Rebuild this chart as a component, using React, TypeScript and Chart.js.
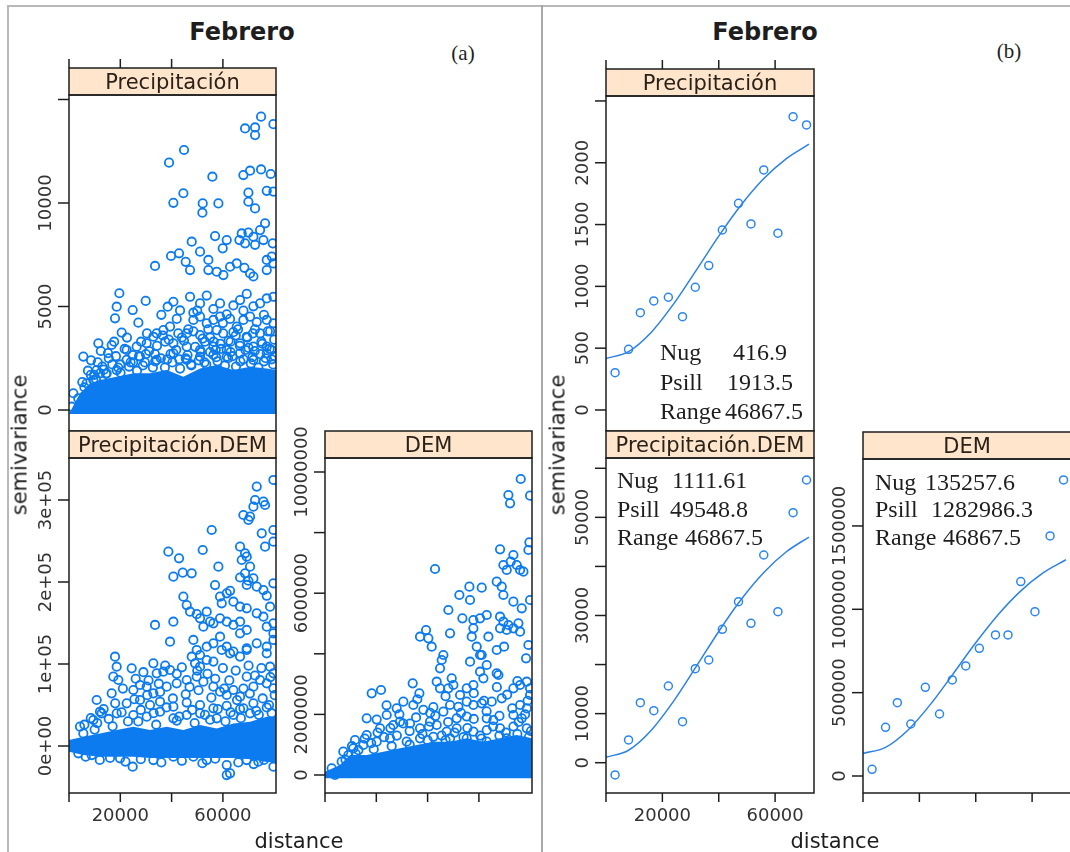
import React, { useEffect, useRef } from "react";
import { Chart, registerables } from "chart.js";

Chart.register(...registerables);

// ---------------- data ----------------
const xTicks = [0, 20000, 40000, 60000];
const xLabelsBottom = ["", "20000", "", "60000"];
const xLabelsNone = ["", "", "", ""];

// (a) variogram cloud: Precipitación  [distance, semivariance]
const precipCloudHigh: [number, number][] = [
  [74880, 14170], [68640, 13600], [72540, 13650], [72540, 13280], [79690, 13810],
  [44850, 12560], [39000, 11950],
  [55900, 11270], [67990, 11350], [70590, 11560], [74880, 11620], [78650, 11400],
  [44590, 10470], [40690, 10010], [52130, 9980], [52000, 9530], [58240, 9980], [69940, 10500],
  [69940, 10060], [72540, 9740], [77090, 10590], [79690, 10550],
  [76440, 9020], [67340, 8530], [69940, 8570], [71890, 8370], [66430, 8210], [68640, 8050],
  [72540, 7980], [75790, 8210], [74490, 8690], [79430, 8050], [56940, 8400], [61490, 8210],
  [59930, 7810], [47840, 8130], [51090, 7650], [79040, 7410], [77090, 7250],
  [39780, 7440], [42900, 7570], [45500, 7160], [47190, 6760], [33540, 6960], [54340, 7250],
  [54340, 6760], [57590, 6680], [60190, 6520], [62790, 6920], [65390, 7080], [68380, 6870],
  [70590, 6600], [71890, 6450], [77090, 6760], [79690, 7080],
];
const precipCloudMid: [number, number][] = [
  [19630, 5640], [18590, 4990], [17940, 4430], [24830, 4830], [27040, 4220], [29900, 5270],
  [20540, 3740], [11440, 3220], [16640, 3140], [5590, 2580],
  [38480, 4990], [40690, 5230], [43290, 4810], [47190, 5470], [48490, 4700], [51090, 5150],
  [53690, 5530], [56290, 4880], [58890, 5150], [61490, 4620], [64090, 5050], [66690, 5310],
  [69290, 5610], [71890, 5010], [74490, 5150], [77090, 5390], [79690, 5470],
  [48490, 4350], [51090, 4510], [53690, 4190], [56290, 4350], [58890, 4510], [62790, 4400],
  [65390, 4030], [67990, 4350], [70590, 4510], [73190, 4250], [77090, 4350], [79690, 4190],
  [34190, 3700], [36790, 3860], [39390, 4030], [45890, 3700], [51090, 3620], [57590, 3860],
  [64090, 3760], [69290, 3540], [74490, 3700], [78390, 3800],
  [36000, 4600], [42000, 4400], [46500, 3900], [50000, 4800], [55000, 3500], [60000, 4200],
  [63000, 3300], [68000, 4800], [72500, 3900], [76000, 4600], [80000, 3400], [37500, 3300],
  [44000, 3500], [53000, 3300], [59000, 3200], [65000, 3600], [70000, 3000], [75000, 3300],
];
const precipCloudLow: [number, number][] = [
  [22490, 2900], [26390, 3060], [30290, 3220], [32890, 3540], [40690, 3220], [45890, 3060],
  [51090, 2900], [56290, 3060], [61490, 2900], [66690, 3220], [71890, 3060], [77090, 3060],
  [79000, 2900], [30000, 2700], [25000, 2300], [20000, 2200], [15500, 2500], [8500, 1700], [13000, 2100],
  [1690, 810], [6890, 1290], [10790, 1930], [14690, 1770], [18590, 1930], [22490, 2420],
  [27690, 2580], [34190, 2420], [40690, 2740], [45890, 2420], [51090, 2580], [56290, 2660],
  [61490, 2580], [66690, 2740], [71890, 2420], [77090, 2740],
  [1040, 160], [3640, 560], [9490, 1450], [12090, 1770],
];
const precipCloudFringe: [number, number][] = [
  [5200, 1350], [7400, 1900], [9800, 1700], [11200, 2300], [13600, 1950], [15200, 2750], [16900, 2200],
  [18300, 2600], [20100, 1800], [21700, 2950], [23400, 2100], [24800, 2650], [26500, 1900], [28100, 3300],
  [29600, 2300], [31200, 2850], [32700, 2050], [34300, 3100], [35800, 2500], [37400, 2050], [38900, 3400],
  [40300, 2300], [41800, 2900], [43300, 2000], [44800, 3350], [46200, 2650], [47700, 2150], [49200, 3050],
  [50600, 2400], [52100, 3450], [53500, 2200], [55000, 2800], [56400, 3300], [57900, 2350], [59300, 2950],
  [60800, 2150], [62200, 3350], [63700, 2600], [65100, 2100], [66600, 3100], [68000, 2450], [69500, 3500],
  [70900, 2250], [72400, 2850], [73800, 2050], [75300, 3200], [76700, 2500], [78200, 2950], [79600, 2200],
  [8600, 2400], [12400, 2850], [17600, 3300], [22600, 3500], [27300, 2600], [30400, 3700], [33500, 2700],
  [36600, 3600], [39600, 2700], [42600, 3700], [45500, 2500], [48500, 3800], [51400, 2800], [54300, 3900],
  [57200, 2900], [60100, 3700], [63000, 2800], [65900, 3900], [68800, 2900], [71700, 3700], [74600, 2700],
  [77500, 3800], [80200, 2600],
  [6000, 1100], [10500, 1500], [14400, 1750], [19200, 2050], [24000, 2300], [28800, 2150], [33600, 2350],
  [38300, 2450], [43000, 2450], [47600, 2200], [52800, 2300], [57400, 2550], [62000, 2500], [66800, 2350],
  [71500, 2550], [76000, 2350], [79000, 2450],
];
// dense part of the cloud (edge of the overlapping circles)
const precipBandDist = [0, 2500, 4290, 8190, 12090, 18590, 25090, 31590, 38090, 44590, 51090, 57590, 64090, 70590, 77090, 80700];
const precipBandTop = [-190, 400, 805, 1290, 1450, 1610, 1770, 1770, 1930, 1610, 2010, 2170, 1930, 2090, 2010, 1930];
const precipBandBottom = [-190, -190, -190, -190, -190, -190, -190, -190, -190, -190, -190, -190, -190, -190, -190, -190];

// (a) variogram cloud: Precipitación.DEM
const precipDemCloudHigh: [number, number][] = [
  [79690, 324400], [73190, 316300], [72540, 300000], [75790, 298000], [71890, 291900], [76440, 293900],
  [67990, 281700], [70590, 279700], [69940, 275600], [75140, 259300], [79690, 263400], [76440, 243100],
  [79690, 249200], [55640, 263400], [52130, 239000], [38740, 237000], [42900, 228900], [40690, 206500],
  [44330, 211400], [47840, 210600], [58240, 218700],
  [66690, 243100], [68640, 235000], [69290, 230900], [67340, 226800], [70590, 218700], [68640, 210600],
  [66690, 205500], [69940, 201500], [71890, 204400], [69290, 196400], [73190, 194300], [75790, 190200],
  [77090, 183200], [79690, 198400], [78390, 169900], [79690, 149600],
  [56940, 196300], [58890, 182100], [61490, 186200], [62790, 189200], [59540, 174000], [64090, 176000],
  [66690, 169900], [69290, 167900], [73190, 161800], [75790, 157700], [77090, 145500], [79690, 137400],
  [44590, 182100], [45890, 171900], [47190, 163800], [49790, 160800], [51090, 155700], [53690, 163800],
  [54990, 151700], [52390, 145500], [56290, 149600], [58890, 155700], [61490, 151600], [64090, 147600],
  [66690, 151600], [69290, 141500],
];
const precipDemCloudMid: [number, number][] = [
  [33540, 147600], [40690, 151600], [39390, 127200], [48490, 129300], [49790, 117100], [51090, 111000],
  [53690, 121100], [56290, 125200], [58890, 133300], [61490, 121100], [62790, 113000], [66690, 137400],
  [69290, 119100], [73190, 125200], [77090, 121100], [79690, 129300],
  [47840, 108900], [49140, 100800], [51090, 96700], [53690, 104900], [56290, 102900], [59540, 117100],
  [64090, 115100], [66690, 109000], [69290, 117100], [77090, 113000], [78390, 96700], [79690, 88600],
  [17940, 108900], [18590, 96700], [17290, 84600], [19240, 80500], [24440, 94700], [10790, 56100],
  [16640, 64200], [12740, 39800], [4290, 23600], [5590, 15400], [9490, 31700], [12090, 41800],
  [32890, 100800], [34190, 88600], [36790, 90600], [39390, 92700], [30290, 72400], [27690, 74400],
  [25090, 68300], [32890, 64200], [38090, 72400], [41990, 76400], [45890, 80500], [49790, 84600],
  [52390, 78500], [56290, 72400], [58890, 66200], [61490, 62200], [64090, 68300], [66690, 60200],
  [69290, 84600], [71890, 72400], [74490, 80500], [77090, 76400], [79690, 70400],
];
const precipDemCloudLow: [number, number][] = [
  [22490, 52000], [27690, 56100], [31590, 50000], [35490, 54000], [40690, 48000], [45890, 53000],
  [51090, 50000], [56290, 46000], [61490, 49000], [66690, 45000], [71890, 52000], [77090, 47000],
  [18590, 39800], [25090, 37800], [30290, 35800], [35490, 41800], [40690, 33800], [45890, 37800],
  [51090, 39800], [57590, 33800], [64090, 37800], [70590, 39800],
  [3640, -8900], [8840, -11000], [19890, -15000], [24830, -25200], [32890, -17100], [40690, -13000],
  [48490, -13000], [53690, -17100], [61490, -23200], [62790, -33300], [61490, -35400], [69290, -17100],
  [73840, -19100], [79690, -25200],
];
const precipDemCloudFringe: [number, number][] = [
  [6000, 26000], [8500, 34000], [11000, 28000], [13500, 45000], [15500, 33000], [18000, 52000], [20500, 41000],
  [23000, 30000], [25500, 57000], [28000, 44000], [30500, 62000], [33000, 40000], [35500, 66000], [38000, 47000],
  [40500, 58000], [43000, 36000], [45500, 63000], [48000, 44000], [50500, 68000], [53000, 38000], [55500, 59000],
  [58000, 45000], [60500, 70000], [63000, 41000], [65500, 56000], [68000, 46000], [70500, 64000], [73000, 43000],
  [75500, 58000], [78000, 50000], [80200, 62000],
  [21000, 70000], [26000, 82000], [29000, 90000], [31000, 80000], [35000, 76000], [37500, 98000], [42000, 88000],
  [44000, 96000], [47000, 72000], [50000, 92000], [54000, 88000], [57000, 82000], [60000, 95000], [62500, 80000],
  [65000, 92000], [68000, 70000], [70000, 98000], [72500, 86000], [75000, 95000], [78500, 84000],
  [6500, -13000], [12000, -17000], [16000, -14500], [22000, -19000], [28000, -16000], [36000, -20000],
  [44000, -18000], [52000, -21000], [57000, -15500], [66000, -20000], [72000, -22000], [76000, -17000],
  [10000, 20000], [17000, 24000], [27000, 30000], [34000, 26000], [42000, 31000], [49000, 28000],
  [55000, 32000], [61000, 30000], [67000, 34000], [74000, 38000], [79000, 40000],
];
const precipDemBandDist = [0, 5590, 12090, 18590, 25090, 31590, 38090, 44590, 51090, 57590, 64090, 70590, 77090, 80700];
const precipDemBandTop = [7300, 11400, 15400, 19500, 23600, 19500, 23600, 19500, 25600, 21500, 27600, 29700, 35800, 35800];
const precipDemBandBottom = [-6900, -11000, -13000, -13000, -13000, -14600, -14600, -14600, -14600, -14600, -14600, -16000, -19500, -19500];

// (a) variogram cloud: DEM
const demCloudHigh: [number, number][] = [
  [76310, 9769000], [71500, 9241000], [72150, 8966000], [79950, 9219000],
  [42900, 6799000], [68250, 7448000], [79690, 7679000], [79300, 7426000], [73450, 7261000],
  [69550, 6931000], [70850, 6766000], [76050, 6766000], [77350, 6711000], [74750, 6931000], [72410, 7041000],
  [52390, 5941000], [56290, 6216000], [61100, 6183000], [56550, 5776000], [66950, 6381000], [68900, 6216000],
  [69550, 5941000], [73450, 5721000], [76700, 5501000], [79950, 5776000],
  [48100, 5445000], [53560, 5170000], [57850, 5115000], [60450, 5170000], [63050, 5280000], [57850, 4840000],
  [57200, 4565000], [63700, 4565000], [68250, 5225000], [69550, 5060000], [71500, 4950000], [73450, 4840000],
  [75400, 5005000], [68250, 4840000], [70850, 4785000], [76050, 4730000],
];
const demCloudMid: [number, number][] = [
  [37050, 4565000], [39390, 4785000], [40300, 4510000], [41600, 4235000], [48750, 4675000], [46150, 3960000],
  [45500, 3795000], [44850, 3520000], [56550, 3740000], [60450, 3960000], [59150, 4235000], [61100, 3960000],
  [63050, 3630000], [66950, 4125000], [69810, 4235000], [79300, 4290000], [78390, 3850000],
  [49400, 3190000], [50050, 2970000], [48100, 2860000], [55250, 2860000], [60450, 3410000], [61750, 3190000],
  [57850, 2970000], [66950, 3355000], [67600, 3300000], [73450, 2860000], [76050, 2970000], [78650, 3080000],
  [79950, 2860000],
  [34190, 3025000], [36790, 2695000], [18200, 2695000], [21840, 2805000], [43550, 3080000], [44850, 2860000],
  [52650, 2640000], [55250, 2420000], [57850, 2310000], [61100, 2365000], [65000, 2420000], [68900, 2530000],
  [76050, 2310000], [78650, 2200000], [79950, 2640000],
];
const demCloudLow: [number, number][] = [
  [16250, 1870000], [20150, 1830000], [24050, 1980000], [27950, 2200000], [30550, 2420000], [34450, 2310000],
  [38350, 2150000], [42250, 2240000], [46150, 2090000], [48750, 2310000], [51350, 1870000], [55250, 1930000],
  [63050, 1870000], [65650, 1810000], [73450, 1980000], [76700, 1870000],
  [11700, 1155000], [16250, 1320000], [21450, 1540000], [26650, 1650000], [29250, 1760000], [33150, 1700000],
  [37050, 1540000], [40950, 1760000], [43550, 1650000], [47450, 1430000], [51350, 1540000], [57850, 1430000],
  [63050, 1480000], [68250, 1540000], [73450, 1600000], [78650, 1540000],
  [7150, 770000], [11050, 880000], [14950, 990000], [20150, 1100000], [25350, 1210000], [31850, 1100000],
  [37050, 1210000], [42250, 1260000], [48750, 1210000], [55250, 1210000], [63050, 1100000], [70850, 1210000],
  [2600, 220000], [3900, 0], [6500, 440000], [9100, 660000],
];
const demCloudFringe: [number, number][] = [
  [8000, 500000], [10500, 950000], [13000, 820000], [15500, 1200000], [18000, 1050000], [20500, 1400000],
  [23000, 1250000], [25500, 1550000], [28000, 1300000], [30500, 1700000], [33000, 1450000], [35500, 1900000],
  [38000, 1350000], [40500, 1600000], [43000, 1950000], [45500, 1300000], [48000, 1750000], [50500, 1400000],
  [53000, 2050000], [55500, 1550000], [58000, 1850000], [60500, 1300000], [63000, 2100000], [65500, 1600000],
  [68000, 1950000], [70500, 1400000], [73000, 2200000], [75500, 1750000], [78000, 2000000], [80300, 1450000],
  [24000, 2300000], [29000, 2000000], [36000, 2500000], [41000, 2050000], [47000, 2600000], [52000, 2250000],
  [58000, 2700000], [62000, 2450000], [67000, 2900000], [71000, 2650000], [75000, 3100000], [79000, 2450000],
  [12000, 700000], [19000, 850000], [26000, 950000], [33000, 1000000], [40000, 1150000], [47000, 1150000],
  [54000, 1250000], [61000, 1200000], [68000, 1300000], [75000, 1350000], [79500, 1250000],
];
const demBandDist = [0, 5850, 9750, 16250, 22750, 29250, 35750, 42250, 48750, 55250, 61750, 68250, 74750, 80700];
const demBandTop = [110000, 330000, 660000, 660000, 770000, 880000, 990000, 1100000, 1100000, 1210000, 1100000, 1210000, 1320000, 1210000];
const demBandBottom = [-110000, -110000, -110000, -110000, -110000, -110000, -110000, -110000, -110000, -110000, -110000, -110000, -110000, -110000];

// (b) sample variograms
const binDist = [3220, 8000, 12180, 16960, 22120, 27150, 31680, 36460, 41280, 47010, 51440, 55970, 61000, 66380, 71150];
const precipGamma = [302, 491, 787, 882, 912, 755, 993, 1168, 1456, 1672, 1505, 1942, 1430, 2373, 2306];
const precipDemGamma = [-2500, 4630, 12230, 10600, 15630, 8360, 19160, 20930, 27190, 32810, 28410, 42330, 30770, 50950, 57610];
const demGamma = [40200, 292100, 440000, 312000, 532000, 372000, 576000, 660000, 766000, 846000, 846000, 1166000, 986000, 1440000, 1776000];

// (b) fitted model curves
const modelDist = [0, 8000, 16000, 24000, 32000, 40000, 48000, 56000, 64000, 72000];
const precipModel = [417, 472, 627, 858, 1130, 1407, 1660, 1872, 2034, 2150];
const precipDemModel = [1112, 2534, 6562, 12538, 19574, 26744, 33304, 38779, 42985, 45984];
const demModel = [135258, 172080, 276386, 431115, 613299, 798947, 968814, 1110574, 1219510, 1297130];

// y tick values / labels
const aPrecipYTicks = [0, 5000, 10000, 15000];
const aPrecipYLabels = ["0", "5000", "10000", ""];
const aPrecipDemYTicks = [0, 100000, 200000, 300000];
const aPrecipDemYLabels = ["0e+00", "1e+05", "2e+05", "3e+05"];
const aDemYTicks = [0, 2000000, 4000000, 6000000, 8000000, 10000000];
const aDemYLabels = ["0", "2000000", "", "6000000", "", "10000000"];
const bPrecipYTicks = [0, 500, 1000, 1500, 2000, 2500];
const bPrecipYLabels = ["0", "500", "1000", "1500", "2000", ""];
const bPrecipDemYTicks = [0, 10000, 20000, 30000, 40000, 50000, 60000];
const bPrecipDemYLabels = ["0", "10000", "", "30000", "", "50000", ""];
const bDemYTicks = [0, 500000, 1000000, 1500000];
const bDemYLabels = ["0", "500000", "1000000", "1500000"];

// ---------------- styling ----------------
const CLOUD_BLUE = "#0b7bef";
const BAND_BLUE = "#0b7bef";
const SAMPLE_BLUE = "#2a86ee";
const LINE_BLUE = "#2b82e6";
const STRIP_BG = "#ffe5cc";
const INK = "#1e1e1e";
const TICK_INK = "#333333";
const SANS = '"DejaVu Sans", sans-serif';
const SERIF = '"Liberation Serif", "Times New Roman", serif';
const PAD = { left: 64, right: 6, top: 46, bottom: 46 };
const STRIP_H = 27;

const pts = (xs: number[], ys: number[]) => xs.map((x, i) => ({ x, y: ys[i] }));
const pairs = (arr: [number, number][]) => arr.map(([x, y]) => ({ x, y }));

function bandSets(dist: number[], top: number[], bottom: number[]) {
  return [
    { data: pts(dist, top), borderWidth: 0, borderColor: "rgba(0,0,0,0)", pointRadius: 0, fill: "+1", backgroundColor: BAND_BLUE, tension: 0, clip: 0 },
    { data: pts(dist, bottom), borderWidth: 0, borderColor: "rgba(0,0,0,0)", pointRadius: 0, fill: false, tension: 0, clip: 0 },
  ];
}
function cloudSet(data: [number, number][]) {
  return {
    data: pairs(data), showLine: false, pointRadius: 4.2, pointBorderWidth: 1.8,
    pointBorderColor: CLOUD_BLUE, pointBackgroundColor: "rgba(255,255,255,0)", clip: 0,
  };
}
function sampleSet(xs: number[], ys: number[]) {
  return {
    data: pts(xs, ys), showLine: false, pointRadius: 4.0, pointBorderWidth: 1.5,
    pointBorderColor: SAMPLE_BLUE, pointBackgroundColor: "rgba(255,255,255,0)", clip: 0,
  };
}
function modelSet(xs: number[], ys: number[]) {
  return {
    data: pts(xs, ys), showLine: true, borderColor: LINE_BLUE, borderWidth: 1.5, pointRadius: 0,
    cubicInterpolationMode: "monotone", fill: false, clip: 0,
  };
}

type PanelCfg = {
  left: number; top: number; width: number; height: number;
  xMax: number; yMin: number; yMax: number;
  xSide: "top" | "bottom"; xLabels: string[];
  yTicks: number[]; yLabels: string[];
  datasets: any[];
};

function makeLatticePlugin(cfg: PanelCfg) {
  return {
    id: "lattice",
    afterDraw(chart: any) {
      const { ctx, chartArea: a, scales } = chart;
      const xs = scales.x;
      const ys = scales.y;
      ctx.save();
      ctx.strokeStyle = INK;
      ctx.lineWidth = 1.5;
      // strip
      ctx.fillStyle = STRIP_BG;
      ctx.fillRect(a.left, a.top - STRIP_H, a.right - a.left, STRIP_H);
      ctx.strokeRect(a.left, a.top - STRIP_H, a.right - a.left, STRIP_H);
      // panel border
      ctx.strokeRect(a.left, a.top, a.right - a.left, a.bottom - a.top);
      ctx.fillStyle = TICK_INK;
      ctx.font = `18px ${SANS}`;
      // y ticks + rotated labels
      const TLY = 11;
      cfg.yTicks.forEach((v, i) => {
        const py = ys.getPixelForValue(v);
        ctx.beginPath();
        ctx.moveTo(a.left - TLY, py);
        ctx.lineTo(a.left, py);
        ctx.stroke();
        const lab = cfg.yLabels[i];
        if (lab) {
          ctx.save();
          ctx.translate(a.left - TLY - 7, py);
          ctx.rotate(-Math.PI / 2);
          ctx.textAlign = "center";
          ctx.textBaseline = "alphabetic";
          ctx.fillText(lab, 0, 0);
          ctx.restore();
        }
      });
      // x ticks
      const TLX = 9;
      xTicks.forEach((v, i) => {
        const px = xs.getPixelForValue(v);
        ctx.beginPath();
        if (cfg.xSide === "top") {
          const y0 = a.top - STRIP_H;
          ctx.moveTo(px, y0 - TLX);
          ctx.lineTo(px, y0);
        } else {
          ctx.moveTo(px, a.bottom);
          ctx.lineTo(px, a.bottom + TLX);
        }
        ctx.stroke();
        const lab = cfg.xLabels[i];
        if (lab && cfg.xSide === "bottom") {
          ctx.textAlign = "center";
          ctx.textBaseline = "top";
          ctx.fillText(lab, px, a.bottom + TLX + 5);
        }
      });
      ctx.restore();
    },
  };
}

function Panel({ cfg }: { cfg: PanelCfg }) {
  const ref = useRef<HTMLCanvasElement | null>(null);
  const w = cfg.width + PAD.left + PAD.right;
  const h = cfg.height + PAD.top + PAD.bottom;
  useEffect(() => {
    if (!ref.current) return;
    const chart = new Chart(ref.current, {
      type: "line",
      data: { datasets: cfg.datasets },
      options: {
        animation: false,
        responsive: false,
        maintainAspectRatio: false,
        devicePixelRatio: 1,
        events: [],
        layout: { padding: { left: PAD.left, right: PAD.right, top: PAD.top, bottom: PAD.bottom } },
        scales: {
          x: { type: "linear", min: 0, max: cfg.xMax, display: false },
          y: { type: "linear", min: cfg.yMin, max: cfg.yMax, display: false },
        },
        plugins: { legend: { display: false }, tooltip: { enabled: false }, title: { display: false } },
      } as any,
      plugins: [makeLatticePlugin(cfg)],
    });
    return () => chart.destroy();
  }, []);
  return (
    <canvas
      ref={ref}
      width={w}
      height={h}
      style={{ position: "absolute", left: cfg.left - PAD.left, top: cfg.top - PAD.top, width: w, height: h }}
    />
  );
}

function Txt(props: { x: number; y: number; text: string; size: number; family: string; bold?: boolean; align?: "left" | "center"; rotate?: boolean; color?: string }) {
  const { x, y, text, size, family, bold, align = "center", rotate, color = INK } = props;
  const tf = rotate
    ? "translate(-50%, -50%) rotate(-90deg)"
    : align === "center"
    ? "translate(-50%, -50%)"
    : "translate(0, -50%)";
  return (
    <div
      style={{
        position: "absolute", left: x, top: y, transform: tf, whiteSpace: "pre",
        fontFamily: family, fontSize: size, lineHeight: `${size}px`, fontWeight: bold ? "bold" : "normal", color,
      }}
    >
      {text}
    </div>
  );
}

function Strip({ left, top, width, text }: { left: number; top: number; width: number; text: string }) {
  return (
    <div
      style={{
        position: "absolute", left, top: top - STRIP_H, width, height: STRIP_H, textAlign: "center",
        fontFamily: SANS, fontSize: 21, lineHeight: "29px", color: "#2a2118", whiteSpace: "nowrap", overflow: "visible",
      }}
    >
      {text}
    </div>
  );
}

const panels: { cfg: PanelCfg; strip: string }[] = [
  {
    strip: "Precipitación",
    cfg: {
      left: 69, top: 95, width: 207, height: 336, xMax: 80700, yMin: -1014, yMax: 15217,
      xSide: "top", xLabels: xLabelsNone, yTicks: aPrecipYTicks, yLabels: aPrecipYLabels,
      datasets: [
        ...bandSets(precipBandDist, precipBandTop, precipBandBottom),
        cloudSet(precipCloudFringe), cloudSet(precipCloudLow), cloudSet(precipCloudMid), cloudSet(precipCloudHigh),
      ],
    },
  },
  {
    strip: "Precipitación.DEM",
    cfg: {
      left: 69, top: 458, width: 207, height: 335, xMax: 80700, yMin: -57300, yMax: 351200,
      xSide: "bottom", xLabels: xLabelsBottom, yTicks: aPrecipDemYTicks, yLabels: aPrecipDemYLabels,
      datasets: [
        ...bandSets(precipDemBandDist, precipDemBandTop, precipDemBandBottom),
        cloudSet(precipDemCloudFringe), cloudSet(precipDemCloudLow), cloudSet(precipDemCloudMid), cloudSet(precipDemCloudHigh),
      ],
    },
  },
  {
    strip: "DEM",
    cfg: {
      left: 325, top: 458, width: 207, height: 335, xMax: 80700, yMin: -594000, yMax: 10462000,
      xSide: "bottom", xLabels: xLabelsNone, yTicks: aDemYTicks, yLabels: aDemYLabels,
      datasets: [
        ...bandSets(demBandDist, demBandTop, demBandBottom),
        cloudSet(demCloudFringe), cloudSet(demCloudLow), cloudSet(demCloudMid), cloudSet(demCloudHigh),
      ],
    },
  },
  {
    strip: "Precipitación",
    cfg: {
      left: 606, top: 96, width: 208, height: 335, xMax: 73800, yMin: -170, yMax: 2540,
      xSide: "top", xLabels: xLabelsNone, yTicks: bPrecipYTicks, yLabels: bPrecipYLabels,
      datasets: [modelSet(modelDist, precipModel), sampleSet(binDist, precipGamma)],
    },
  },
  {
    strip: "Precipitación.DEM",
    cfg: {
      left: 606, top: 458, width: 208, height: 335, xMax: 73800, yMin: -6175, yMax: 62095,
      xSide: "bottom", xLabels: xLabelsBottom, yTicks: bPrecipDemYTicks, yLabels: bPrecipDemYLabels,
      datasets: [modelSet(modelDist, precipDemModel), sampleSet(binDist, precipDemGamma)],
    },
  },
  {
    strip: "DEM",
    cfg: {
      left: 863, top: 459, width: 208, height: 334, xMax: 73800, yMin: -102000, yMax: 1901600,
      xSide: "bottom", xLabels: xLabelsNone, yTicks: bDemYTicks, yLabels: bDemYLabels,
      datasets: [modelSet(modelDist, demModel), sampleSet(binDist, demGamma)],
    },
  },
];

export default function App() {
  return (
    <div style={{ position: "absolute", left: 0, top: 0, width: 1070, height: 852, background: "#fff", overflow: "hidden" }}>
      {/* frame lines */}
      <div style={{ position: "absolute", left: 7, top: 5, width: 1070, height: 1.5, background: "#b8b8b8" }} />
      <div style={{ position: "absolute", left: 7, top: 5, width: 1.5, height: 852, background: "#b8b8b8" }} />
      <div style={{ position: "absolute", left: 541, top: 5, width: 1.5, height: 852, background: "#a8a8a8" }} />

      {panels.map((p, i) => (
        <Panel key={i} cfg={p.cfg} />
      ))}
      {panels.map((p, i) => (
        <Strip key={"s" + i} left={p.cfg.left} top={p.cfg.top} width={p.cfg.width} text={p.strip} />
      ))}

      {/* titles */}
      <Txt x={242} y={32} text="Febrero" size={24} family={SANS} bold />
      <Txt x={765} y={32} text="Febrero" size={24} family={SANS} bold />
      <Txt x={463} y={53} text="(a)" size={21} family={SERIF} />
      <Txt x={1009} y={51} text="(b)" size={21} family={SERIF} />

      {/* axis titles */}
      <Txt x={20} y={445} text="semivariance" size={21} family={SANS} rotate />
      <Txt x={558} y={445} text="semivariance" size={21} family={SANS} rotate />
      <Txt x={299} y={841} text="distance" size={21} family={SANS} />
      <Txt x={835} y={841} text="distance" size={21} family={SANS} />

      {/* model parameters */}
      <Txt x={660} y={352} text="Nug" size={24} family={SERIF} align="left" />
      <Txt x={733} y={352} text="416.9" size={24} family={SERIF} align="left" />
      <Txt x={660} y={382} text="Psill" size={24} family={SERIF} align="left" />
      <Txt x={727} y={382} text="1913.5" size={24} family={SERIF} align="left" />
      <Txt x={660} y={411} text="Range" size={24} family={SERIF} align="left" />
      <Txt x={725} y={411} text="46867.5" size={24} family={SERIF} align="left" />

      <Txt x={617} y={480} text="Nug" size={24} family={SERIF} align="left" />
      <Txt x={672} y={480} text="1111.61" size={24} family={SERIF} align="left" />
      <Txt x={617} y={509} text="Psill" size={24} family={SERIF} align="left" />
      <Txt x={670} y={509} text="49548.8" size={24} family={SERIF} align="left" />
      <Txt x={617} y={537} text="Range" size={24} family={SERIF} align="left" />
      <Txt x={685} y={537} text="46867.5" size={24} family={SERIF} align="left" />

      <Txt x={875} y={482} text="Nug" size={24} family={SERIF} align="left" />
      <Txt x={925} y={482} text="135257.6" size={24} family={SERIF} align="left" />
      <Txt x={875} y={509} text="Psill" size={24} family={SERIF} align="left" />
      <Txt x={931} y={509} text="1282986.3" size={24} family={SERIF} align="left" />
      <Txt x={875} y={537} text="Range" size={24} family={SERIF} align="left" />
      <Txt x={943} y={537} text="46867.5" size={24} family={SERIF} align="left" />
    </div>
  );
}
